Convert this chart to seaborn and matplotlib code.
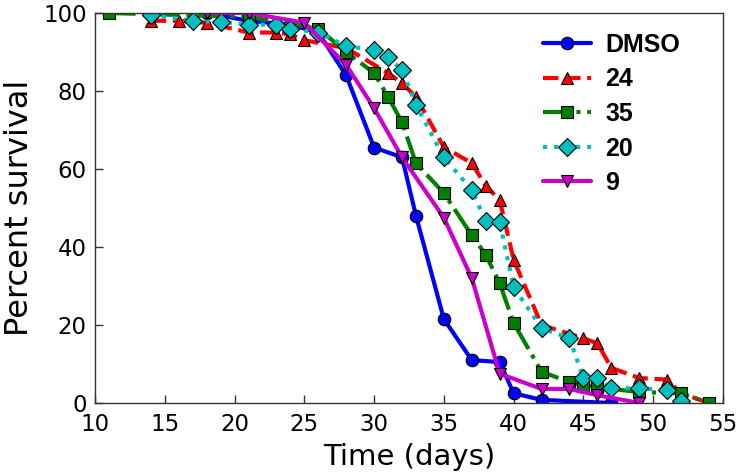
import pandas as pd
import seaborn as sns
import matplotlib.pyplot as plt

# Survival data (days, percent alive)
dmso_days = [18, 21, 24, 26, 28, 30, 32, 33, 35, 37, 39, 40, 42, 47]
dmso_pct = [100, 98, 97, 95, 84, 65.5, 63, 48, 21.5, 11, 10.5, 2.5, 0.8, 0]

c24_days = [14, 16, 18, 21, 23, 24, 25, 28, 31, 32, 33, 35, 37, 38, 39, 40,
            42, 45, 46, 47, 49, 51, 52, 54]
c24_pct = [98, 98, 97.5, 95, 95, 94.5, 93, 91, 84.6, 82, 78.5, 65.6, 61.5,
           55.7, 52, 36.7, 20, 16.6, 15.3, 9, 6.4, 6, 2.5, 0]

c35_days = [11, 21, 26, 28, 30, 31, 32, 33, 35, 37, 38, 39, 40, 42, 44, 45,
            46, 49, 52, 54]
c35_pct = [100, 99, 96, 90, 84.6, 78.5, 72, 61.5, 53.8, 43, 38, 30.7, 20.5,
           8, 5.4, 4.5, 4, 2.8, 2.5, 0]

c20_days = [14, 17, 19, 21, 23, 24, 26, 28, 30, 31, 32, 33, 35, 37, 38, 39,
            40, 42, 44, 45, 46, 47, 49, 51, 52]
c20_pct = [99.5, 98, 97.7, 97, 97, 96, 95, 91.5, 90.5, 88.7, 85.4, 76.4, 63,
           54.6, 46.6, 46.4, 29.7, 19.2, 16.6, 6.4, 6.4, 3.8, 3.8, 3.3, 0.5]

c9_days = [18, 21, 25, 28, 30, 32, 35, 37, 39, 42, 44, 46, 49]
c9_pct = [100, 100, 97.5, 86.7, 75.6, 63, 47.5, 32, 7.5, 3.6, 3.6, 2, 0]

labels = ['DMSO', '24', '35', '20', '9']
series = [(dmso_days, dmso_pct), (c24_days, c24_pct), (c35_days, c35_pct),
          (c20_days, c20_pct), (c9_days, c9_pct)]
colors = ['#0000ff', '#ff0000', '#007f00', '#00bfbf', '#cc00cc']
markers = ['o', '^', 's', 'D', 'v']
styles = ['-', '--', '-.', ':', '-']

sns.set_style('white')
plt.rcParams['font.family'] = ['DejaVu Sans']
plt.rcParams['text.color'] = 'black'
plt.rcParams['axes.labelcolor'] = 'black'

fig = plt.figure(figsize=(7.38, 4.74), dpi=100)
ax = fig.add_axes([95 / 738, 71 / 474, 628 / 738, 390 / 474])

for lab, (d, p), col, mk, ls in zip(labels, series, colors, markers, styles):
    df = pd.DataFrame({'Time': d, 'Survival': p})
    sns.lineplot(data=df, x='Time', y='Survival', ax=ax, color=col,
                 marker=mk, linestyle=ls, lw=3, ms=9, mec='black', mew=0.8,
                 label=lab)

ax.set_xlim(10, 55)
ax.set_ylim(0, 100)
ax.set_xticks(range(10, 56, 5))
ax.set_yticks(range(0, 101, 20))
ax.tick_params(direction='in', length=6, width=1, labelsize=16.5,
               labelcolor='black', color='#333333',
               top=False, right=False, left=True, bottom=True)
ax.tick_params(axis='x', pad=7)
ax.tick_params(axis='y', pad=6)
for s in ax.spines.values():
    s.set_color('#333333')
    s.set_linewidth(1)

ax.set_xlabel('Time (days)', fontsize=21, labelpad=5)
ax.set_ylabel('Percent survival', fontsize=23, labelpad=6)

leg = ax.legend(loc='upper left', bbox_to_anchor=(543 / 738, 1 - 33 / 474),
                bbox_transform=fig.transFigure, frameon=False, numpoints=1,
                borderpad=0, borderaxespad=0, handlelength=1.9,
                handletextpad=0.6, labelspacing=0.42,
                prop={'family': 'Liberation Sans', 'weight': 'bold',
                      'size': 18})

fig.savefig('out.png', dpi=100)
